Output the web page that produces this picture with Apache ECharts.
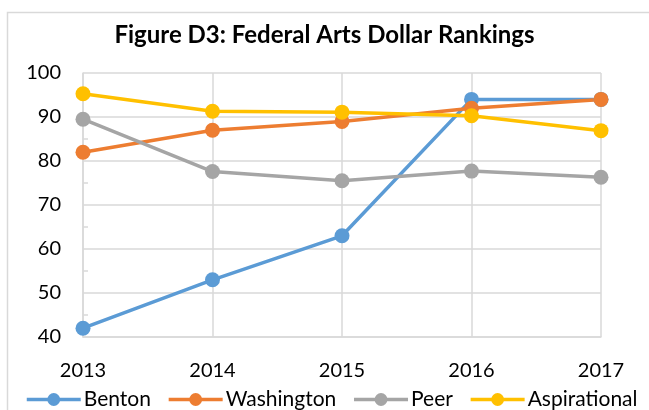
<!DOCTYPE html>
<html>
<head>
<meta charset="utf-8">
<script src="https://cdn.jsdelivr.net/npm/echarts@6/dist/echarts.min.js"></script>
<style>
  html, body { margin: 0; padding: 0; background: #fff; }
  #chart { width: 649px; height: 410px; }
</style>
</head>
<body>
<div id="chart"></div>
<script>
// data
const years = ['2013', '2014', '2015', '2016', '2017'];
const benton = [42, 53, 63, 94, 94];
const washington = [82, 87, 89, 92, 94];
const peer = [89.5, 77.6, 75.5, 77.7, 76.3];
const aspirational = [95.3, 91.3, 91.1, 90.3, 86.9];

const chart = echarts.init(document.getElementById('chart'));

const font = 'Lato, "Open Sans", sans-serif';

function line(name, data, color) {
  return {
    name: name,
    type: 'line',
    data: data,
    symbol: 'circle',
    symbolSize: 15,
    lineStyle: { width: 3.5, color: color },
    itemStyle: { color: color },
    emphasis: { disabled: true }
  };
}

let option = {
  animation: false,
  title: {
    text: 'Figure D3: Federal Arts Dollar Rankings',
    left: 'center',
    top: 18,
    textStyle: { fontFamily: font, fontSize: 24, fontWeight: 'bold', color: '#000' }
  },
  graphic: [{
    type: 'rect',
    shape: { x: 7.5, y: 12.5, width: 700, height: 450 },
    style: { fill: 'none', stroke: '#d9d9d9', lineWidth: 1.5 },
    silent: true
  }],
  legend: {
    top: 384,
    left: 20,
    itemWidth: 54,
    itemHeight: 16,
    itemGap: 16,
    lineStyle: { width: 3.5 },
    textStyle: { fontFamily: font, fontSize: 21, color: '#000', padding: [0, 0, 0, -2] },
    data: ['Benton', 'Washington', 'Peer', 'Aspirational']
  },
  grid: { left: 83, right: 48, top: 73, bottom: 73 },
  xAxis: {
    type: 'category',
    data: years,
    boundaryGap: false,
    axisLine: { lineStyle: { color: '#d9d9d9', width: 1.5 } },
    axisTick: { show: false },
    splitLine: { show: true, lineStyle: { color: '#d9d9d9', width: 1.5 } },
    axisLabel: { fontFamily: font, fontSize: 20, color: '#000', margin: 24 }
  },
  yAxis: {
    type: 'value',
    min: 40,
    max: 100,
    interval: 10,
    axisLine: { show: true, lineStyle: { color: '#d9d9d9', width: 1.5 } },
    axisTick: { show: false, inside: true },
    minorTick: { show: true, splitNumber: 2, length: 5, lineStyle: { color: '#d9d9d9', width: 1.5 } },
    splitLine: { lineStyle: { color: '#d9d9d9', width: 1.5 } },
    axisLabel: { fontFamily: font, fontSize: 20, color: '#000', margin: 22 }
  },
  series: [
    line('Benton', benton, '#5b9bd5'),
    line('Washington', washington, '#ed7d31'),
    line('Peer', peer, '#a5a5a5'),
    line('Aspirational', aspirational, '#ffc000')
  ]
};

option && chart.setOption(option);
</script>
</body>
</html>
